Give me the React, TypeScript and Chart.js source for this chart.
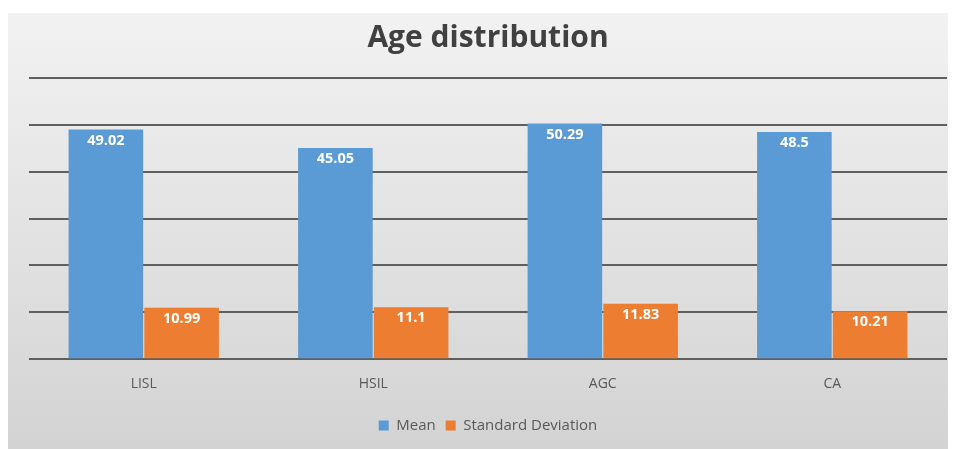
import React, { useEffect, useRef } from "react";
import { Chart, registerables } from "chart.js";

Chart.register(...registerables);

const categories = ["LISL", "HSIL", "AGC", "CA"];
const meanValues = [49.02, 45.05, 50.29, 48.5];
const sdValues = [10.99, 11.1, 11.83, 10.21];
const seriesNames = ["Mean", "Standard Deviation"];
const titleText = "Age distribution";

const FONT = "'Open Sans', Lato, sans-serif";

const labelPlugin = {
  id: "barLabels",
  afterDatasetsDraw(chart: any) {
    const ctx = chart.ctx;
    ctx.save();
    ctx.font = `bold 14.5px ${FONT}`;
    ctx.fillStyle = "#ffffff";
    ctx.textAlign = "center";
    ctx.textBaseline = "middle";
    chart.data.datasets.forEach((ds: any, di: number) => {
      const meta = chart.getDatasetMeta(di);
      meta.data.forEach((bar: any, i: number) => {
        ctx.fillText(String(ds.data[i]), bar.x, bar.y + 11);
      });
    });
    ctx.restore();
  },
};

export default function App() {
  const ref = useRef<HTMLCanvasElement | null>(null);
  useEffect(() => {
    if (!ref.current) return;
    const chart = new Chart(ref.current, {
      type: "bar",
      data: {
        labels: categories,
        datasets: [
          {
            label: seriesNames[0],
            data: meanValues,
            backgroundColor: "#5b9bd5",
            categoryPercentage: 0.66,
            barPercentage: 0.985,
          },
          {
            label: seriesNames[1],
            data: sdValues,
            backgroundColor: "#ed7d31",
            categoryPercentage: 0.66,
            barPercentage: 0.985,
          },
        ],
      },
      options: {
        animation: false,
        responsive: false,
        maintainAspectRatio: false,
        layout: { padding: { left: 21, right: 5, top: 0, bottom: 6 } },
        plugins: {
          title: {
            display: true,
            text: titleText,
            color: "#404040",
            font: { family: FONT, size: 30, weight: "bold" },
            padding: { top: 7, bottom: 22 },
          },
          legend: {
            position: "bottom",
            labels: {
              boxWidth: 10,
              boxHeight: 10,
              color: "#595959",
              font: { family: FONT, size: 15 },
              padding: 10,
            },
          },
          tooltip: { enabled: false },
        },
        scales: {
          x: {
            grid: { display: false, drawTicks: false },
            border: { display: false },
            ticks: { color: "#595959", font: { family: FONT, size: 14 }, padding: 16 },
          },
          y: {
            min: 0,
            max: 60,
            ticks: { display: false, stepSize: 10 },
            grid: { color: "#5f5f5f", lineWidth: 2, drawTicks: false },
            border: { display: false },
            afterFit: (axis: any) => {
              axis.width = 0;
            },
          },
        },
      },
      plugins: [labelPlugin],
    });
    return () => chart.destroy();
  }, []);

  return (
    <div style={{ paddingTop: 5 }}>
      <div
        style={{
          width: 944,
          height: 436,
          background: "linear-gradient(#f2f2f2, #d3d3d3)",
        }}
      >
        <canvas ref={ref} width={944} height={436} style={{ display: "block" }} />
      </div>
    </div>
  );
}
